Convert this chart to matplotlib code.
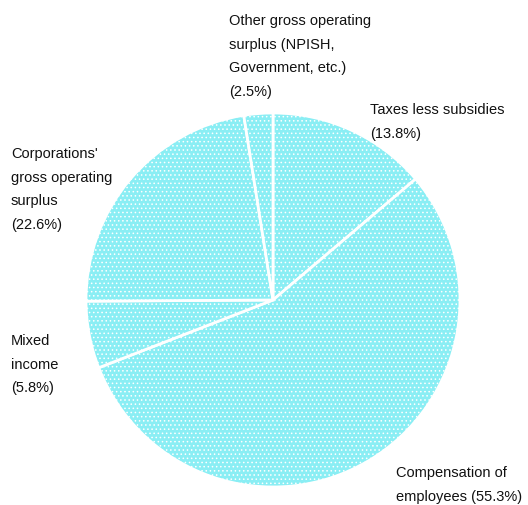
import matplotlib.pyplot as plt

# shares of value added, clockwise from the top
labels = ['Taxes less subsidies\n(13.8%)',
          'Compensation of\nemployees (55.3%)',
          'Mixed\nincome\n(5.8%)',
          "Corporations'\ngross operating\nsurplus\n(22.6%)",
          'Other gross operating\nsurplus (NPISH,\nGovernment, etc.)\n(2.5%)']
shares = [13.8, 55.3, 5.8, 22.6, 2.5]

# label top-left corners in pixels
label_pos = [(370, 103), (396, 466), (11, 334), (11, 147), (229, 14)]

W, H = 528, 505
fig = plt.figure(figsize=(W / 100, H / 100), dpi=100)
plt.rcParams['font.family'] = ['Liberation Sans', 'DejaVu Sans']
plt.rcParams['hatch.linewidth'] = 0.6

cx, cy, r = 273, 300, 187
ax = fig.add_axes([(cx - r) / W, 1 - (cy + r) / H, 2 * r / W, 2 * r / H])
wedges, _ = ax.pie(shares, startangle=90, counterclock=False,
                   colors=['#8aeef4'] * len(shares),
                   wedgeprops=dict(edgecolor='white', linewidth=2))
for w in wedges:
    w.set_hatch('....')
ax.set_xlim(-1, 1)
ax.set_ylim(-1, 1)
ax.set_aspect('equal')
ax.axis('off')

for lab, (x, y) in zip(labels, label_pos):
    fig.text(x / W, 1 - y / H, lab, ha='left', va='top', fontsize=10.5,
             color='#111111', linespacing=1.88)

fig.savefig('out.png', dpi=100)
